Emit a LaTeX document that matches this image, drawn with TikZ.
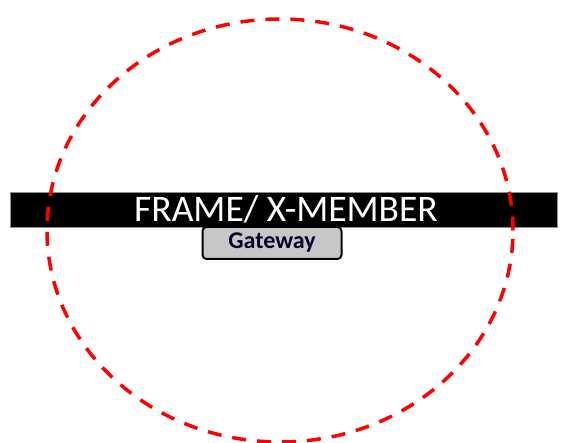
\documentclass[tikz,border=0pt]{standalone}
\usepackage{fontspec}
\usetikzlibrary{shapes.geometric}
\setmainfont{Carlito}
\begin{document}
\begin{tikzpicture}[x=1pt,y=-1pt,
  barstyle/.style={fill=black,draw=black!45,line width=0.8pt,minimum width=547pt,minimum height=35pt,inner sep=0pt},
  gatestyle/.style={fill=black!22,draw=black,line width=2pt,rounded corners=4pt,minimum width=139pt,minimum height=32pt,inner sep=0pt,font=\bfseries\fontsize{24}{24}\selectfont,text=black!85!blue},
  ringstyle/.style={draw=red,line width=3.5pt,dash pattern=on 14pt off 11pt}]
\useasboundingbox (0,0) rectangle (562,443);
\fill[white] (0,0) rectangle (562,443);
\node[barstyle] (bar) at (283.5,209.5) {};
\node[text=white,font=\fontsize{37.5}{37.5}\selectfont,inner sep=0pt] (frame) at (286,209.5) {FRAME/ X-MEMBER};
\node[gatestyle] (gw) at (272,243) {Gateway};
\node[ringstyle,ellipse,minimum width=466pt,minimum height=423pt,inner sep=0pt] (ring) at (280,230.5) {};
\end{tikzpicture}
\end{document}
